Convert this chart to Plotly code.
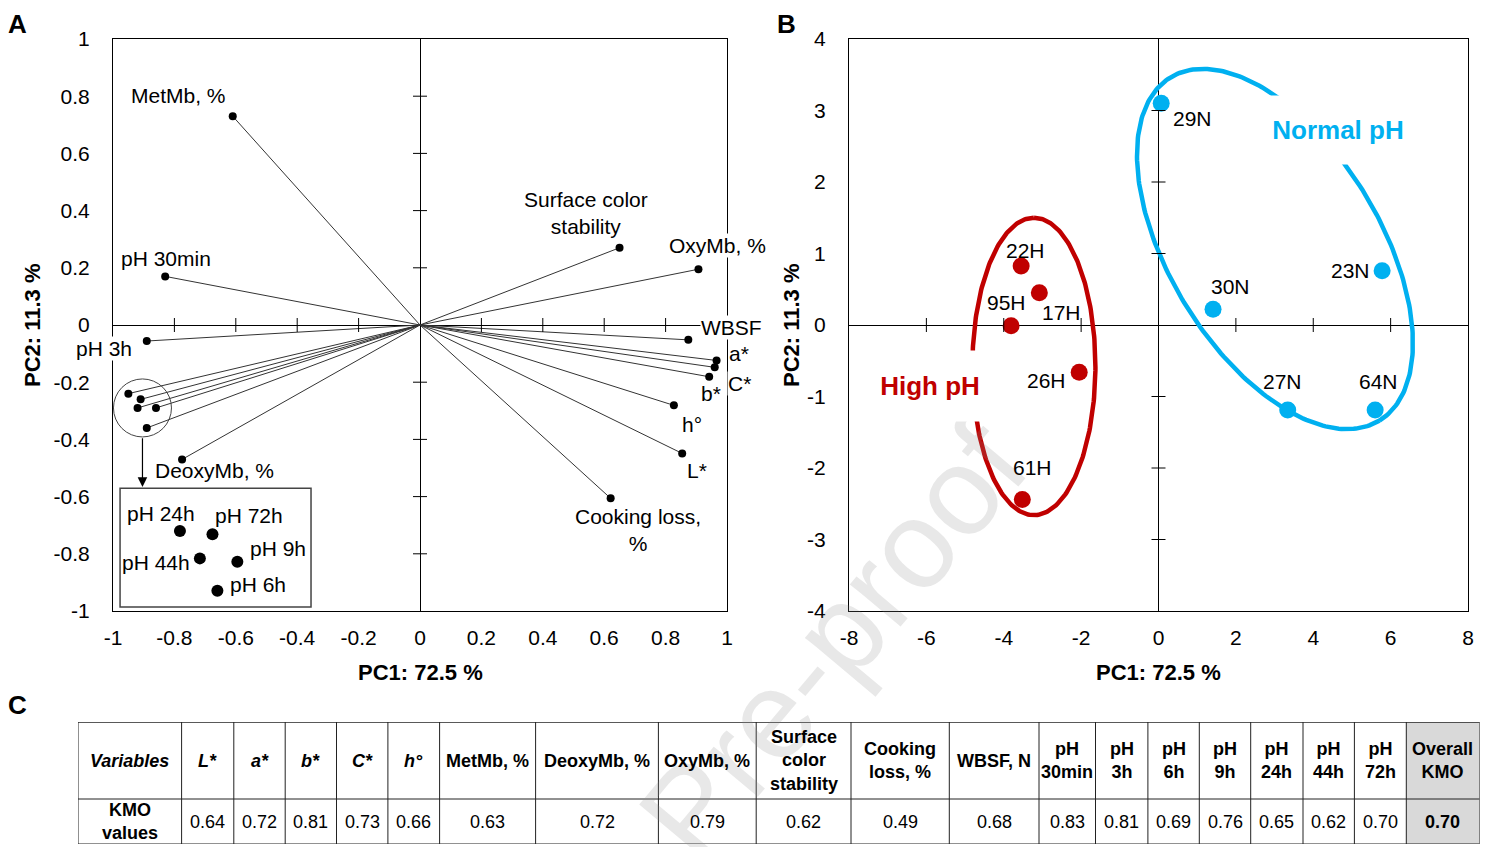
import numpy as np
import plotly.graph_objects as go

FONT = "Arial, 'Liberation Sans', sans-serif"
W, H = 1492, 847
OFF = 8  # page body margin in the browser


def fx(px):
    return (px - OFF) / W


def fy(py):
    return 1 - (py - OFF) / H


# ---------------- Data ----------------
# Panel A: PCA loadings (PC1, PC2)
load_names = ["MetMb, %", "pH 30min", "pH 3h", "pH 24h", "pH 72h", "pH 44h", "pH 9h", "pH 6h",
              "DeoxyMb, %", "Surface color<br>stability", "OxyMb, %", "WBSF", "a*", "C*", "b*",
              "h°", "L*", "Cooking loss,<br>%"]
load_pc1 = [-0.61, -0.83, -0.89, -0.95, -0.91, -0.92, -0.86, -0.89,
            -0.775, 0.65, 0.907, 0.874, 0.966, 0.96, 0.942, 0.827, 0.854, 0.621]
load_pc2 = [0.73, 0.17, -0.056, -0.24, -0.26, -0.29, -0.29, -0.36,
            -0.47, 0.27, 0.195, -0.052, -0.124, -0.148, -0.181, -0.281, -0.449, -0.606]

# Panel A inset: magnified view of the circled pH cluster
inset_names = ["pH 24h", "pH 72h", "pH 44h", "pH 9h", "pH 6h"]
inset_pc1 = [-0.782, -0.676, -0.717, -0.595, -0.660]
inset_pc2 = [-0.720, -0.732, -0.816, -0.828, -0.929]

# Panel B: PCA scores
score_names = ["29N", "23N", "30N", "27N", "64N", "22H", "17H", "95H", "26H", "61H"]
score_pc1 = [0.07, 5.78, 1.41, 3.34, 5.60, -3.55, -3.08, -3.81, -2.05, -3.52]
score_pc2 = [3.10, 0.76, 0.22, -1.19, -1.19, 0.825, 0.45, -0.01, -0.66, -2.44]
score_group = ["Normal pH"] * 5 + ["High pH"] * 5

# Ticks
a_ticks = [-1, -0.8, -0.6, -0.4, -0.2, 0, 0.2, 0.4, 0.6, 0.8, 1]
a_ticktext = ["-1", "-0.8", "-0.6", "-0.4", "-0.2", "0", "0.2", "0.4", "0.6", "0.8", "1"]
b_xticks = [-8, -6, -4, -2, 0, 2, 4, 6, 8]
b_yticks = [-4, -3, -2, -1, 0, 1, 2, 3, 4]

# Panel C: KMO table
kmo_vars = ["<i>L*</i>", "<i>a*</i>", "<i>b*</i>", "<i>C*</i>", "<i>h°</i>", "MetMb, %",
            "DeoxyMb, %", "OxyMb, %", "Surface<br>color<br>stability", "Cooking<br>loss, %",
            "WBSF, N", "pH<br>30min", "pH<br>3h", "pH<br>6h", "pH<br>9h", "pH<br>24h",
            "pH<br>44h", "pH<br>72h"]
kmo_vals = [0.64, 0.72, 0.81, 0.73, 0.66, 0.63, 0.72, 0.79, 0.62, 0.49, 0.68,
            0.83, 0.81, 0.69, 0.76, 0.65, 0.62, 0.70]
overall_kmo = 0.70

# ---------------- Style / layout constants ----------------
group_color = {"Normal pH": "#00B0F0", "High pH": "#C00000"}
# label offsets in px (dx right, dy down) relative to the point
a_label_off = {"MetMb, %": (-54, -21), "pH 30min": (1, -18), "pH 3h": (-43, 7),
               "DeoxyMb, %": (32, 11), "Surface color<br>stability": (-34, -35),
               "OxyMb, %": (19, -24), "WBSF": (43, -12), "a*": (22, -7), "C*": (25, 16),
               "b*": (2, 17), "h°": (18, 19), "L*": (15, 17), "Cooking loss,<br>%": (27, 32)}
white_bg_labels = {"pH 3h", "WBSF", "a*", "C*", "OxyMb, %"}
inset_label_off = {"pH 24h": (-19, -17), "pH 72h": (37, -19), "pH 44h": (-44, 4),
                   "pH 9h": (41, -13), "pH 6h": (41, -6)}
b_label_off = {"29N": (31, 15), "23N": (-32, 0), "30N": (17, -23), "27N": (-5, -29),
               "64N": (3, -29), "22H": (4, -16), "17H": (22, 20), "95H": (-5, -23),
               "26H": (-33, 8), "61H": (10, -32)}
# ellipses: center + two conjugate semi-diameter vectors (data units)
ellipses = {
    "High pH": dict(c=(-3.22, -0.58), u=(0.0, 2.08), v=(1.59, 0.0)),
    "Normal pH": dict(c=(3.01, 1.063), u=(2.70, -2.40), v=(-2.33, -0.766)),
}
group_label_pos = {"High pH": (-5.9, -0.85, 150, 70), "Normal pH": (4.64, 2.73, 188, 68)}

# inset decorations in panel A
circle_c = (-0.904, -0.29)
circle_r_px = 29
inset_box = (-0.977, -0.355, -0.986, -0.571)
arrow_tip_y = -0.566

col_widths = [103.6, 52.2, 51.4, 51.3, 51.4, 51.7, 96, 122.8, 97.8, 94.8, 98.3, 89.7,
              56.5, 52.4, 51.4, 51.4, 52.3, 51.4, 51.9, 73.3]
row_h = (45, 77)  # value row, header row

fig = go.Figure()

# ---- Panel A ----
lx, ly = [], []
for x, y in zip(load_pc1, load_pc2):
    lx += [0, x, None]
    ly += [0, y, None]
fig.add_trace(go.Scatter(x=lx, y=ly, mode="lines", line=dict(color="#333333", width=1),
                         xaxis="x", yaxis="y", hoverinfo="skip"))
fig.add_trace(go.Scatter(x=load_pc1, y=load_pc2, mode="markers", text=load_names,
                         marker=dict(color="black", size=8), xaxis="x", yaxis="y"))
fig.add_trace(go.Scatter(x=inset_pc1, y=inset_pc2, mode="markers", text=inset_names,
                         marker=dict(color="black", size=12), xaxis="x", yaxis="y"))

# ---- Panel B ----
t = np.linspace(0, 2 * np.pi, 300)
for g, e in ellipses.items():
    ex = e["c"][0] + e["u"][0] * np.cos(t) + e["v"][0] * np.sin(t)
    ey = e["c"][1] + e["u"][1] * np.cos(t) + e["v"][1] * np.sin(t)
    fig.add_trace(go.Scatter(x=ex, y=ey, mode="lines", line=dict(color=group_color[g], width=4.5),
                             xaxis="x2", yaxis="y2", hoverinfo="skip"))
fig.add_trace(go.Scatter(x=score_pc1, y=score_pc2, mode="markers", text=score_names,
                         marker=dict(color=[group_color[g] for g in score_group], size=17),
                         xaxis="x2", yaxis="y2"))

ann = []
C = dict(xanchor="center", yanchor="middle", showarrow=False)
# watermark first (lowest among annotations)
ann.append(dict(text="Pre-proof", x=fx(832), y=fy(640), xref="paper", yref="paper",
                textangle=-50, font=dict(family=FONT, size=125, color="rgba(140,140,140,0.2)"), **C))

lab_font = dict(family=FONT, size=21, color="black")
for n, x, y in zip(load_names, load_pc1, load_pc2):
    if n in a_label_off:
        dx, dy = a_label_off[n]
        a = dict(text=n, x=x, y=y, xref="x", yref="y", xshift=dx, yshift=-dy, font=lab_font, **C)
        if n in white_bg_labels:
            a.update(bgcolor="white", borderpad=0)
        ann.append(a)
for n, x, y in zip(inset_names, inset_pc1, inset_pc2):
    dx, dy = inset_label_off[n]
    ann.append(dict(text=n, x=x, y=y, xref="x", yref="y", xshift=dx, yshift=-dy, font=lab_font, **C))
for n, x, y in zip(score_names, score_pc1, score_pc2):
    dx, dy = b_label_off[n]
    ann.append(dict(text=n, x=x, y=y, xref="x2", yref="y2", xshift=dx, yshift=-dy, font=lab_font, **C))
for g, (gx, gy, bw, bh) in group_label_pos.items():
    ann.append(dict(text=f"<b>{g}</b>", x=gx, y=gy, xref="x2", yref="y2",
                    bgcolor="white", width=bw, height=bh, borderpad=0,
                    font=dict(family=FONT, size=26, color=group_color[g]), **C))

# arrow from circle to inset box
ann.append(dict(x=circle_c[0], y=arrow_tip_y, ax=circle_c[0], ay=circle_c[1] - 0.101,
                xref="x", yref="y", axref="x", ayref="y", showarrow=True, text="",
                arrowhead=2, arrowsize=1.6, arrowwidth=1.2, arrowcolor="black"))

# axis titles
tfont = dict(family=FONT, size=22, color="black")
ann.append(dict(text="<b>PC1: 72.5 %</b>", x=fx(420), y=fy(672), xref="paper", yref="paper",
                font=tfont, **C))
ann.append(dict(text="<b>PC1: 72.5 %</b>", x=fx(1158), y=fy(672), xref="paper", yref="paper",
                font=tfont, **C))
ann.append(dict(text="<b>PC2: 11.3 %</b>", x=fx(32), y=fy(325), xref="paper", yref="paper",
                textangle=-90, font=tfont, **C))
ann.append(dict(text="<b>PC2: 11.3 %</b>", x=fx(791), y=fy(325), xref="paper", yref="paper",
                textangle=-90, font=tfont, **C))
# panel letters
for L, px in [("A", 17), ("B", 787)]:
    ann.append(dict(text=f"<b>{L}</b>", x=fx(px), y=1, xref="paper", yref="paper",
                    xanchor="center", yanchor="top", showarrow=False, borderpad=0,
                    font=dict(family=FONT, size=26, color="black")))
ann.append(dict(text="<b>C</b>", x=fx(17), y=fy(705), xref="paper", yref="paper",
                font=dict(family=FONT, size=26, color="black"), **C))

shapes = []


# zero-line crossing ticks
def xticks_on_zero(vals, xref, yref):
    for v in vals:
        if v == 0 or v == vals[0] or v == vals[-1]:
            continue
        shapes.append(dict(type="line", xref=xref, yref=yref, x0=v, x1=v, ysizemode="pixel",
                           yanchor=0, y0=-7, y1=7, line=dict(color="black", width=1)))


def yticks_on_zero(vals, xref, yref):
    for v in vals:
        if v == 0 or v == vals[0] or v == vals[-1]:
            continue
        shapes.append(dict(type="line", xref=xref, yref=yref, y0=v, y1=v, xsizemode="pixel",
                           xanchor=0, x0=-7, x1=7, line=dict(color="black", width=1)))


xticks_on_zero(a_ticks, "x", "y")
yticks_on_zero(a_ticks, "x", "y")
xticks_on_zero(b_xticks, "x2", "y2")
yticks_on_zero(b_yticks, "x2", "y2")

# inset circle and box
shapes.append(dict(type="circle", xref="x", yref="y", xsizemode="pixel", ysizemode="pixel",
                   xanchor=circle_c[0], yanchor=circle_c[1], x0=-circle_r_px, x1=circle_r_px,
                   y0=-circle_r_px, y1=circle_r_px, line=dict(color="#444444", width=1)))
shapes.append(dict(type="rect", xref="x", yref="y", x0=inset_box[0], x1=inset_box[1],
                   y0=inset_box[2], y1=inset_box[3], line=dict(color="#444444", width=1.5)))

# ---- Panel C: table ----
edges = np.concatenate([[0], np.cumsum(col_widths)])
total_w = edges[-1]
total_h = row_h[0] + row_h[1]
shapes.append(dict(type="rect", xref="x3", yref="y3", x0=edges[-2], x1=edges[-1], y0=0, y1=total_h,
                   fillcolor="#D9D9D9", line=dict(width=0), layer="below"))
for e in edges:
    shapes.append(dict(type="line", xref="x3", yref="y3", x0=e, x1=e, y0=0, y1=total_h,
                       line=dict(color="#222222", width=1)))
for yv, wd in [(0, 1), (row_h[0], 1), (total_h, 1.5)]:
    shapes.append(dict(type="line", xref="x3", yref="y3", x0=0, x1=total_w, y0=yv, y1=yv,
                       line=dict(color="#222222", width=wd)))

headers = ["<i>Variables</i>"] + kmo_vars + ["Overall<br>KMO"]
values = ["<b>KMO<br>values</b>"] + [f"{v:.2f}" for v in kmo_vals] + [f"<b>{overall_kmo:.2f}</b>"]
cfont = dict(family=FONT, size=18, color="black")
for i, (hd, vl) in enumerate(zip(headers, values)):
    cx = (edges[i] + edges[i + 1]) / 2
    ann.append(dict(text=f"<b>{hd}</b>", x=cx, y=row_h[0] + row_h[1] / 2, xref="x3", yref="y3",
                    font=cfont, **C))
    ann.append(dict(text=vl, x=cx, y=row_h[0] / 2, xref="x3", yref="y3", font=cfont, **C))

axis_common = dict(showgrid=False, zeroline=True, zerolinecolor="black", zerolinewidth=1,
                   showline=True, mirror=True, linecolor="black", linewidth=1, ticks="",
                   tickfont=dict(family=FONT, size=21, color="black"),
                   automargin=False, fixedrange=True)

fig.update_layout(
    width=W, height=H, autosize=False,
    margin=dict(l=0, r=0, t=0, b=0, pad=0, autoexpand=False),
    paper_bgcolor="white", plot_bgcolor="white", showlegend=False,
    font=dict(family=FONT, color="black"),
    xaxis=dict(domain=[fx(113), fx(727)], range=[-1, 1], tickvals=a_ticks, ticktext=a_ticktext,
               anchor="y", ticklabelstandoff=8, **axis_common),
    yaxis=dict(domain=[fy(611), fy(39)], range=[-1, 1], tickvals=a_ticks,
               ticktext=a_ticktext, anchor="x", ticklabelstandoff=18, **axis_common),
    xaxis2=dict(domain=[fx(849), fx(1468)], range=[-8, 8], tickvals=b_xticks,
                ticktext=[str(v) for v in b_xticks], anchor="y2", ticklabelstandoff=8, **axis_common),
    yaxis2=dict(domain=[fy(611), fy(39)], range=[-4, 4], tickvals=b_yticks,
                ticktext=[str(v) for v in b_yticks], anchor="x2", ticklabelstandoff=18, **axis_common),
    xaxis3=dict(domain=[fx(78), fx(1479.6)], range=[0, total_w], visible=False, anchor="y3",
                fixedrange=True, automargin=False),
    yaxis3=dict(domain=[fy(844), fy(722)], range=[0, total_h], visible=False, anchor="x3",
                fixedrange=True, automargin=False),
    shapes=shapes, annotations=ann,
)

fig.write_html("out.html")
